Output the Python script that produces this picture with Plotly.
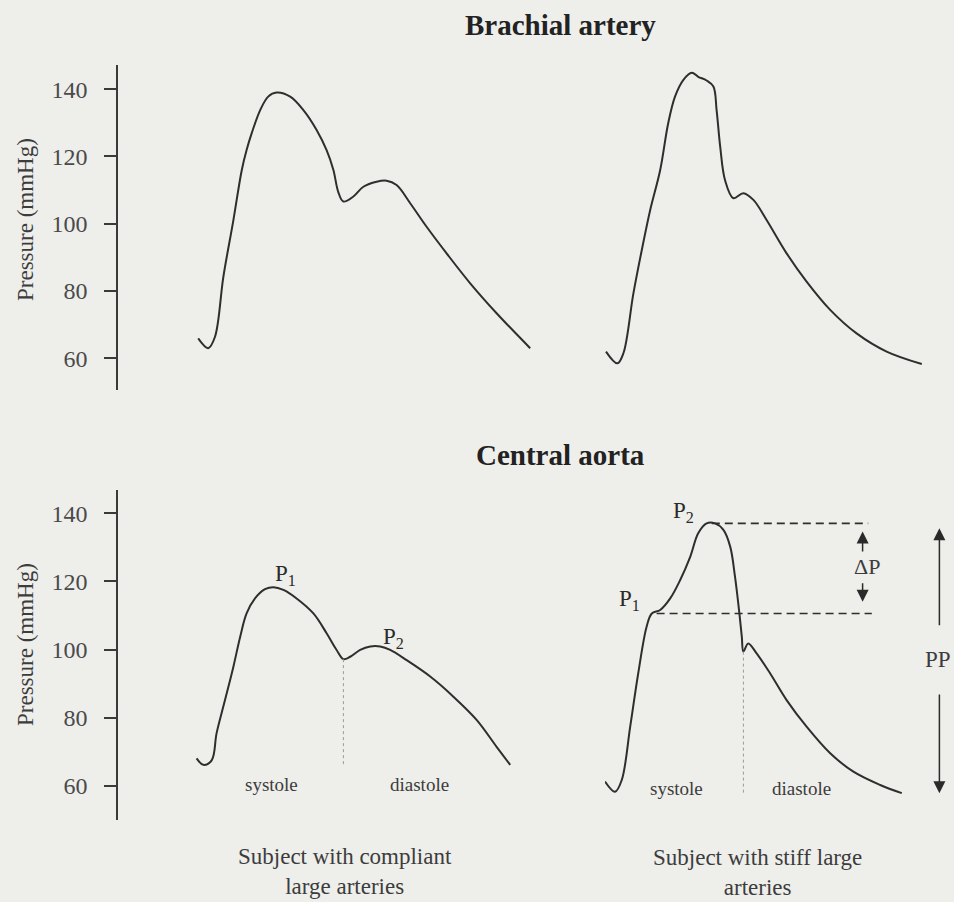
import plotly.graph_objects as go

# ---------------- data (time in ms within the cycle, pressure in mmHg) -------------
brachial_compliant_t = [8, 33, 50, 71, 96, 117, 129, 142, 163, 183, 204, 238, 271, 304, 329,
                        346, 358, 371, 396, 421, 454, 479, 504, 538, 579, 629, 688, 754, 838]
brachial_compliant_p = [65.9, 63.0, 66.4, 84.3, 101.1, 116.0, 121.9, 127.0, 133.8, 137.8, 139.0,
                        137.8, 133.8, 127.9, 121.9, 116.0, 109.5, 106.6, 108.1, 111.0, 112.5,
                        112.8, 111.5, 106.1, 99.1, 91.2, 82.3, 73.4, 63.0]

brachial_stiff_t = [2.5, 31, 46, 71, 92, 113, 138, 158, 175, 196, 217, 233, 254, 271, 279, 288,
                    300, 321, 346, 371, 404, 454, 504, 563, 629, 704, 792]
brachial_stiff_p = [62.0, 58.5, 61.5, 79.3, 92.2, 104.1, 116.0, 129.9, 137.8, 142.8, 144.9,
                    143.7, 142.6, 140.8, 133.8, 122.9, 113.0, 107.6, 109.1, 107.1, 101.1, 91.2,
                    82.8, 74.4, 67.4, 62.0, 58.3]

aorta_compliant_t = [4, 21, 42, 54, 75, 96, 113, 129, 150, 175, 196, 221, 254, 296, 329, 354,
                     371, 388, 413, 438, 463, 488, 529, 588, 646, 704, 754, 788]
aorta_compliant_p = [68.1, 66.2, 67.6, 75.5, 85.2, 95.0, 103.8, 110.6, 115.0, 117.7, 118.3,
                     117.5, 115.0, 110.6, 104.8, 99.9, 97.2, 97.9, 99.9, 100.9, 100.9, 99.9,
                     96.9, 92.1, 86.2, 79.4, 71.5, 66.2]

aorta_stiff_t = [0, 25, 42, 63, 83, 104, 117, 138, 163, 188, 213, 233, 254, 275, 296, 313, 325,
                 336, 342, 346, 358, 379, 413, 454, 504, 563, 621, 688, 742]
aorta_stiff_p = [61.3, 58.3, 61.8, 77.4, 93.0, 106.7, 110.6, 111.6, 115.0, 120.4, 127.2, 134.1,
                 137.0, 137.0, 135.1, 130.2, 121.4, 110.6, 103.8, 99.4, 101.8, 98.9, 93.0, 85.2,
                 77.4, 69.6, 64.2, 60.3, 57.9]

# end of systole (incisura) markers: time, top pressure, bottom pressure
compliant_incisura = [371, 97.2, 65.6]
stiff_incisura = [346, 99.4, 57.9]

# stiff aorta inflection points
stiff_P1 = 110.6
stiff_P2 = 137.0
stiff_P1_line_t = [129, 667]
stiff_P2_line_t = [267, 658]

y_ticks = [60, 80, 100, 120, 140]
y_title = "Pressure (mmHg)"
top_title = "Brachial artery"
bottom_title = "Central aorta"
caption_left = "Subject with compliant<br>large arteries"
caption_right = "Subject with stiff large<br>arteries"

# ---------------- styling ----------------
FONT = "Liberation Serif"
INK = "#2e2e2e"
TXT = "#3c3c3c"
BG = "#eeeeeb"
W, H = 954, 902

fig = go.Figure()


def curve(t, p, xa, ya):
    fig.add_trace(go.Scatter(
        x=t, y=p, xaxis=xa, yaxis=ya, mode="lines",
        line=dict(color=INK, width=2, shape="spline", smoothing=1.0),
        hoverinfo="skip", showlegend=False))


curve(brachial_compliant_t, brachial_compliant_p, "x", "y")
curve(brachial_stiff_t, brachial_stiff_p, "x2", "y")
curve(aorta_compliant_t, aorta_compliant_p, "x", "y2")
curve(aorta_stiff_t, aorta_stiff_p, "x2", "y2")

# incisura vertical dotted lines
for inc, xa in [(compliant_incisura, "x"), (stiff_incisura, "x2")]:
    fig.add_trace(go.Scatter(
        x=[inc[0], inc[0]], y=[inc[1], inc[2]], xaxis=xa, yaxis="y2", mode="lines",
        line=dict(color="#9a9a9a", width=1, dash="dot"),
        hoverinfo="skip", showlegend=False))

# dashed level lines for P1 and P2 (stiff subject)
for lvl, tt in [(stiff_P2, stiff_P2_line_t), (stiff_P1, stiff_P1_line_t)]:
    fig.add_trace(go.Scatter(
        x=tt, y=[lvl, lvl], xaxis="x2", yaxis="y2", mode="lines",
        line=dict(color=INK, width=1.6, dash="8px,5px"),
        hoverinfo="skip", showlegend=False))


def ypx(a, b):
    return [1 - b / H, 1 - a / H]


axis_common = dict(
    anchor="free", position=117 / W, showline=True, linecolor="#3a3a3a", linewidth=1.6,
    ticks="outside", ticklen=12, tickwidth=1.5, tickcolor="#3a3a3a",
    tickvals=y_ticks, showgrid=False, zeroline=False,
    tickfont=dict(family=FONT, size=24, color="#4a4a4a"), ticklabelstandoff=12)

fig.update_layout(
    width=W, height=H, margin=dict(l=0, r=0, t=0, b=0),
    paper_bgcolor=BG, plot_bgcolor="rgba(0,0,0,0)",
    font=dict(family=FONT, color=TXT),
    xaxis=dict(domain=[195 / W, 545 / W], range=[0, 875], visible=False, anchor="y"),
    xaxis2=dict(domain=[605 / W, 945 / W], range=[0, 850], visible=False, anchor="y"),
    yaxis=dict(domain=ypx(65, 390), range=[50.57, 147.2], **axis_common),
    yaxis2=dict(domain=ypx(490, 820), range=[50.03, 146.8], **axis_common),
)

ann = []
# titles
ann.append(dict(text="<b>%s</b>" % top_title, x=560 / W, y=1 - 25 / H, xref="paper", yref="paper",
                showarrow=False, font=dict(size=29, color="#222"), xanchor="center", yanchor="middle"))
ann.append(dict(text="<b>%s</b>" % bottom_title, x=560 / W, y=1 - 455 / H, xref="paper", yref="paper",
                showarrow=False, font=dict(size=29, color="#222"), xanchor="center", yanchor="middle"))
# y titles
for yc in [220, 645]:
    ann.append(dict(text=y_title, x=25 / W, y=1 - yc / H, xref="paper", yref="paper",
                    textangle=-90, showarrow=False, font=dict(size=23, color=TXT),
                    xanchor="center", yanchor="middle"))
# captions
ann.append(dict(text=caption_left, x=345 / W, y=1 - 871 / H, xref="paper", yref="paper",
                showarrow=False, font=dict(size=23, color=TXT), xanchor="center", yanchor="middle"))
ann.append(dict(text=caption_right, x=757 / W, y=1 - 872 / H, xref="paper", yref="paper",
                showarrow=False, font=dict(size=23, color=TXT), xanchor="center", yanchor="middle"))

# P labels
for txt, x, y, xr in [("P<sub>1</sub>", 225, 121.9, "x"), ("P<sub>2</sub>", 495, 103.4, "x"),
                      ("P<sub>1</sub>", 62, 114.5, "x2"), ("P<sub>2</sub>", 195, 140.4, "x2")]:
    ann.append(dict(text=txt, x=x, y=y, xref=xr, yref="y2", showarrow=False,
                    font=dict(size=23, color="#2a2a2a"), xanchor="center", yanchor="middle"))

# systole / diastole
for txt, x, y, xr in [("systole", 192, 60.3, "x"), ("diastole", 562, 60.3, "x"),
                      ("systole", 179, 59.4, "x2"), ("diastole", 492, 59.4, "x2")]:
    ann.append(dict(text=txt, x=x, y=y, xref=xr, yref="y2", showarrow=False,
                    font=dict(size=19, color=TXT), xanchor="center", yanchor="middle"))

# delta P and PP arrows
arrow = dict(showarrow=True, arrowhead=2, arrowsize=1.6, arrowwidth=1.5, arrowcolor="#2a2a2a",
             xref="x2", yref="y2", axref="x2", ayref="y2", text="")
ann.append(dict(x=644, y=134.6, ax=644, ay=128.3, **arrow))
ann.append(dict(x=644, y=114.0, ax=644, ay=119.9, **arrow))
ann.append(dict(x=836, y=135.6, ax=836, ay=106.7, **arrow))
ann.append(dict(x=836, y=57.9, ax=836, ay=87.3, **arrow))
ann.append(dict(text="\u0394P", x=654, y=124.3, xref="x2", yref="y2", showarrow=False,
                font=dict(size=22, color=TXT), xanchor="center", yanchor="middle"))
ann.append(dict(text="PP", x=832, y=97.0, xref="x2", yref="y2", showarrow=False,
                font=dict(size=23, color=TXT), xanchor="center", yanchor="middle"))

fig.update_layout(annotations=ann)

fig.write_html("out.html")
